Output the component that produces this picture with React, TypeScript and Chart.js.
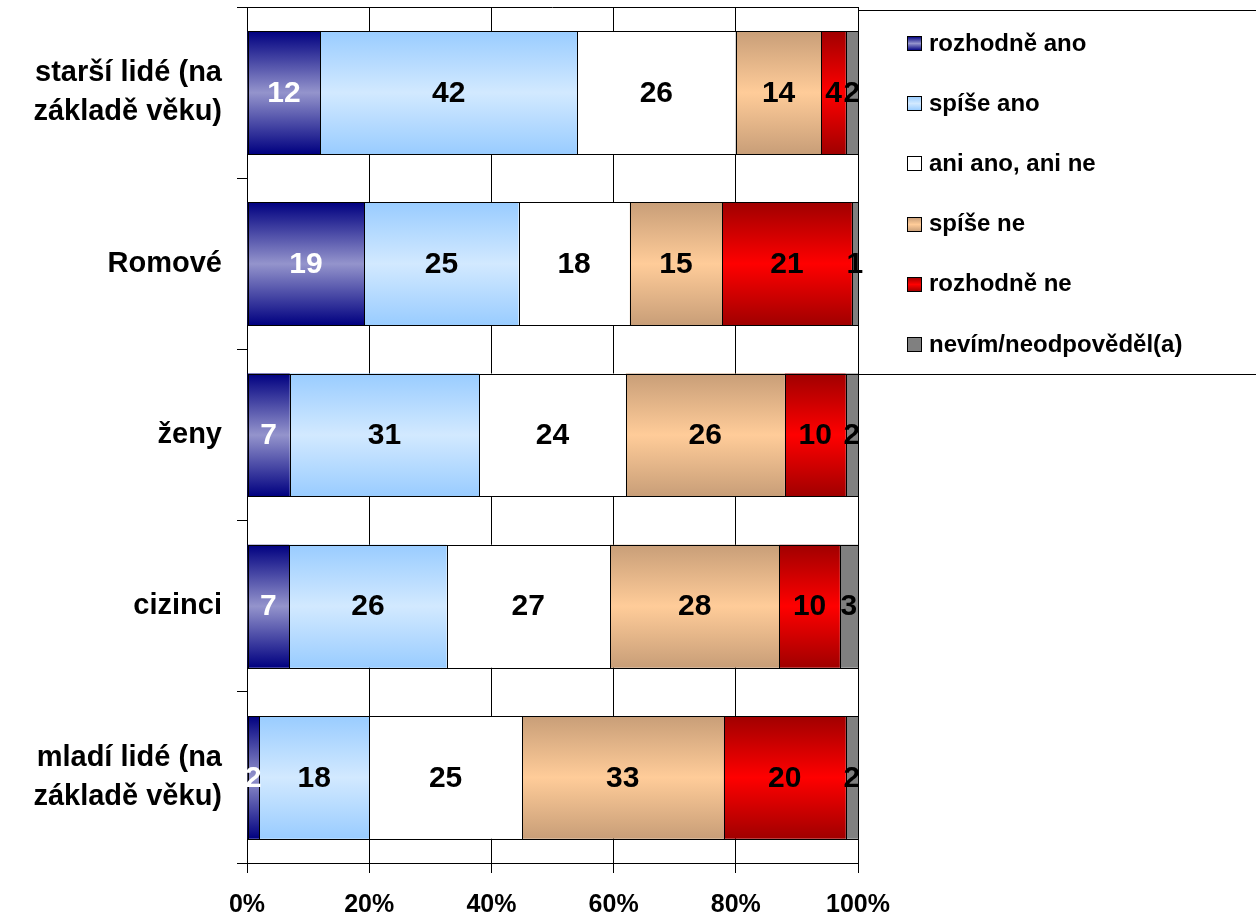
import React, { useEffect, useRef } from "react";
import { Chart, registerables } from "chart.js";

Chart.register(...registerables);

const categories: (string | string[])[] = [
  ["starší lidé (na", "základě věku)"],
  "Romové",
  "ženy",
  "cizinci",
  ["mladí lidé (na", "základě věku)"],
];

const seriesNames = [
  "rozhodně ano",
  "spíše ano",
  "ani ano, ani ne",
  "spíše ne",
  "rozhodně ne",
  "nevím/neodpověděl(a)",
];

const rozhodneAno = [12, 19, 7, 7, 2];
const spiseAno = [42, 25, 31, 26, 18];
const aniAnoAniNe = [26, 18, 24, 27, 25];
const spiseNe = [14, 15, 26, 28, 33];
const rozhodneNe = [4, 21, 10, 10, 20];
const nevim = [2, 1, 2, 3, 2];

const xTickLabels = ["0%", "20%", "40%", "60%", "80%", "100%"];

// [edge colour, centre colour, label colour]
const seriesStyles: [string, string, string][] = [
  ["#000080", "#9494cc", "#ffffff"],
  ["#99ccff", "#d2e9ff", "#000000"],
  ["#ffffff", "#ffffff", "#000000"],
  ["#c89e78", "#ffcc99", "#000000"],
  ["#a00000", "#ff0000", "#000000"],
  ["#808080", "#808080", "#000000"],
];

const FONT = '"Liberation Sans", Arial, Helvetica, sans-serif';
const BAR_FRACTION = 0.718;

const allSeries = [rozhodneAno, spiseAno, aniAnoAniNe, spiseNe, rozhodneNe, nevim];

function makeGradient(ctx: CanvasRenderingContext2D, y0: number, y1: number, edge: string, centre: string) {
  const g = ctx.createLinearGradient(0, y0, 0, y1);
  g.addColorStop(0, edge);
  g.addColorStop(0.5, centre);
  g.addColorStop(1, edge);
  return g;
}

const dataLabelPlugin = {
  id: "dataLabels",
  afterDatasetsDraw(chart: any) {
    const ctx = chart.ctx as CanvasRenderingContext2D;
    ctx.save();
    // crisp black outlines around every segment
    ctx.strokeStyle = "#000";
    ctx.lineWidth = 1;
    chart.data.datasets.forEach((_ds: any, di: number) => {
      const meta = chart.getDatasetMeta(di);
      meta.data.forEach((el: any) => {
        const x0 = Math.round(Math.min(el.x, el.base)) + 0.5;
        const x1 = Math.round(Math.max(el.x, el.base)) + 0.5;
        const y0 = Math.round(el.y - el.height / 2) + 0.5;
        const y1 = Math.round(el.y + el.height / 2) + 0.5;
        ctx.strokeRect(x0, y0, x1 - x0, y1 - y0);
      });
    });
    ctx.font = `bold 30px ${FONT}`;
    ctx.textAlign = "center";
    ctx.textBaseline = "middle";
    chart.data.datasets.forEach((ds: any, di: number) => {
      const meta = chart.getDatasetMeta(di);
      meta.data.forEach((el: any, i: number) => {
        const raw = ds.rawValues[i];
        const cx = (el.x + el.base) / 2;
        ctx.fillStyle = seriesStyles[di][2];
        ctx.fillText(String(raw), cx, el.y + 1);
      });
    });
    ctx.restore();
  },
};

const framePlugin = {
  id: "frame",
  afterDraw(chart: any) {
    const ctx = chart.ctx as CanvasRenderingContext2D;
    const ca = chart.chartArea;
    ctx.save();
    ctx.strokeStyle = "#000";
    ctx.lineWidth = 1;
    ctx.beginPath();
    ctx.moveTo(ca.left, Math.round(ca.top) + 0.5);
    ctx.lineTo(ca.right, Math.round(ca.top) + 0.5);
    ctx.stroke();

    // legend box
    const lx = Math.round(ca.right) + 0.5;
    const ly = 10.5;
    const lb = 374.5;
    ctx.beginPath();
    ctx.moveTo(chart.width + 5, ly);
    ctx.lineTo(lx, ly);
    ctx.lineTo(lx, lb);
    ctx.lineTo(chart.width + 5, lb);
    ctx.stroke();

    ctx.font = `bold 24px ${FONT}`;
    ctx.textAlign = "left";
    ctx.textBaseline = "middle";
    seriesNames.forEach((name, i) => {
      const cy = 43 + i * 60.2;
      const bx = 907.5;
      const by = Math.round(cy - 7) + 0.5;
      const size = 14;
      ctx.fillStyle = makeGradient(ctx, by, by + size, seriesStyles[i][0], seriesStyles[i][1]);
      ctx.fillRect(bx, by, size, size);
      ctx.strokeStyle = "#000";
      ctx.strokeRect(bx, by, size, size);
      ctx.fillStyle = "#000";
      ctx.fillText(name, 929, cy + 1);
    });
    ctx.restore();
  },
};

export default function App() {
  const canvasRef = useRef<HTMLCanvasElement | null>(null);

  useEffect(() => {
    if (!canvasRef.current) return;
    const datasets = allSeries.map((values, si) => ({
      label: seriesNames[si],
      rawValues: values,
      data: values.map((v, ci) => {
        const total = allSeries.reduce((s, arr) => s + arr[ci], 0);
        return (v / total) * 100;
      }),
      borderWidth: 0,
      barPercentage: BAR_FRACTION,
      categoryPercentage: 1,
      backgroundColor: (c: any) => {
        const chart = c.chart;
        const ca = chart.chartArea;
        const ys = chart.scales && chart.scales.y;
        const [edge, centre] = seriesStyles[si];
        if (!ca || !ys || c.dataIndex === undefined) return centre;
        const centreY = ys.getPixelForValue(c.dataIndex);
        const half = ((ca.bottom - ca.top) / categories.length) * BAR_FRACTION / 2;
        return makeGradient(chart.ctx, centreY - half, centreY + half, edge, centre);
      },
    }));

    const chart = new Chart(canvasRef.current, {
      type: "bar",
      data: { labels: categories as any, datasets: datasets as any },
      options: {
        indexAxis: "y",
        responsive: false,
        animation: false,
        devicePixelRatio: 1,
        layout: { padding: { top: 7, right: 398, left: 0, bottom: 0 } },
        plugins: {
          legend: { display: false },
          tooltip: { enabled: false },
        },
        scales: {
          x: {
            stacked: true,
            min: 0,
            max: 100,
            ticks: {
              stepSize: 20,
              color: "#000",
              padding: 17,
              maxRotation: 0,
              font: { family: FONT, size: 25, weight: "bold" },
              callback: (_v: any, i: number) => xTickLabels[i],
            },
            grid: { color: "#000", lineWidth: 1, tickLength: 10, drawTicks: true },
            border: { display: true, color: "#000", width: 1 },
            afterFit: (s: any) => {
              s.height = 56;
              s.paddingLeft = 0;
              s.paddingRight = 0;
            },
          },
          y: {
            stacked: true,
            ticks: {
              color: "#000",
              padding: 15,
              font: { family: FONT, size: 29, weight: "bold", lineHeight: 1.33 },
            },
            grid: {
              display: true,
              offset: true,
              drawOnChartArea: false,
              drawTicks: true,
              tickLength: 10,
              color: "#000",
              lineWidth: 1,
            },
            border: { display: true, color: "#000", width: 1 },
            afterFit: (s: any) => {
              s.width = 247;
              s.paddingTop = 0;
              s.paddingBottom = 0;
            },
          },
        },
      } as any,
      plugins: [dataLabelPlugin, framePlugin],
    });
    return () => chart.destroy();
  }, []);

  return (
    <div style={{ position: "absolute", left: 0, top: 0, width: 1256, height: 919, background: "#fff" }}>
      <canvas ref={canvasRef} width={1256} height={919} style={{ display: "block" }} />
    </div>
  );
}
